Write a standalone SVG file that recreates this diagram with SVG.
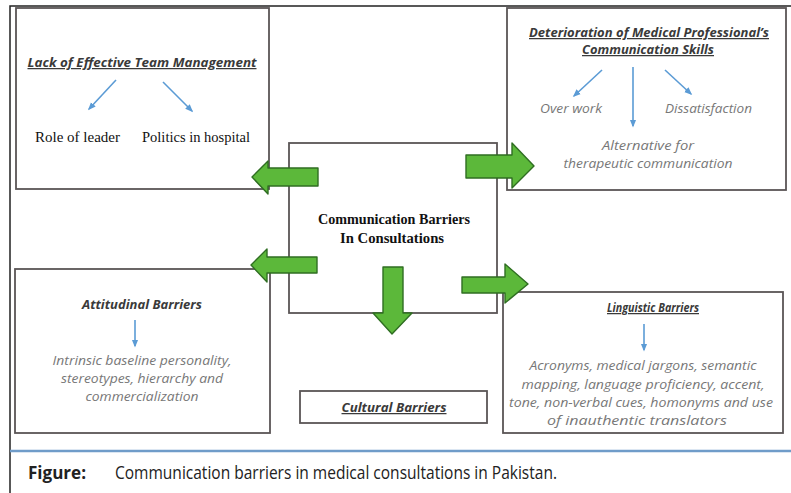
<svg xmlns="http://www.w3.org/2000/svg" width="791" height="493" viewBox="0 0 791 493">
<style>
.box{fill:#fff;stroke:#5a5556;stroke-width:1.8}
.frame{fill:none;stroke:#222;stroke-width:1.5}
.hd{font-family:"Open Sans",Lato,sans-serif;font-style:italic;font-weight:bold;fill:#3a3a3a;font-size:12.5px;text-decoration:underline}
.it{font-family:"Open Sans",Lato,sans-serif;font-style:italic;fill:#777;font-size:12px}
.sf{font-family:"Liberation Serif","Times New Roman",serif;fill:#111;font-size:14px}
.blue{stroke:#5b9bd5;stroke-width:1.6;fill:none;marker-end:url(#bh)}
.green{fill:#5cb83a;stroke:#2f6e22;stroke-width:1.4;stroke-linejoin:round}
.cap{font-family:"Open Sans","Liberation Sans",sans-serif;font-size:18px;fill:#222}
</style>
<defs>
<marker id="bh" viewBox="0 0 10 10" refX="8" refY="5" markerWidth="5" markerHeight="5" orient="auto-start-reverse">
<path d="M0,1 L10,5 L0,9 z" fill="#5b9bd5"/>
</marker>
</defs>
<rect width="791" height="493" fill="#fff"/>
<g id="frame">
<polyline class="frame" points="10,493 10,6 791,6"/>
<line x1="10" y1="451" x2="791" y2="451" stroke="#6f9cc9" stroke-width="2.5"/>
</g>
<g id="node-team">
<rect class="box" x="16" y="8" width="253" height="181"/>
<text class="hd" x="142" y="67" text-anchor="middle" textLength="229" lengthAdjust="spacingAndGlyphs">Lack of Effective Team Management</text>
<text class="sf" x="35" y="142" textLength="85" lengthAdjust="spacingAndGlyphs">Role of leader</text>
<text class="sf" x="142" y="142" textLength="108" lengthAdjust="spacingAndGlyphs">Politics in hospital</text>
</g>
<g id="node-deterioration">
<rect class="box" x="507" y="8" width="279" height="182"/>
<text class="hd" x="649" y="37" text-anchor="middle" textLength="240" lengthAdjust="spacingAndGlyphs">Deterioration of Medical Professional’s</text>
<text class="hd" x="648" y="54" text-anchor="middle" textLength="132" lengthAdjust="spacingAndGlyphs">Communication Skills</text>
<text class="it" x="540" y="113" textLength="62" lengthAdjust="spacingAndGlyphs">Over work</text>
<text class="it" x="665" y="113" textLength="87" lengthAdjust="spacingAndGlyphs">Dissatisfaction</text>
<text class="it" x="648" y="150" text-anchor="middle" textLength="92" lengthAdjust="spacingAndGlyphs">Alternative for</text>
<text class="it" x="648" y="168" text-anchor="middle" textLength="169" lengthAdjust="spacingAndGlyphs">therapeutic communication</text>
</g>
<g id="node-center">
<rect class="box" x="289" y="143" width="208" height="170"/>
<text class="sf" x="394" y="224" text-anchor="middle" font-weight="bold" textLength="152" lengthAdjust="spacingAndGlyphs">Communication Barriers</text>
<text class="sf" x="392" y="243" text-anchor="middle" font-weight="bold" textLength="104" lengthAdjust="spacingAndGlyphs">In Consultations</text>
</g>
<g id="node-attitudinal">
<rect class="box" x="15" y="269" width="255" height="164"/>
<text class="hd" x="142" y="309" text-anchor="middle" style="text-decoration:none" textLength="120" lengthAdjust="spacingAndGlyphs">Attitudinal Barriers</text>
<text class="it" x="142" y="365" text-anchor="middle" textLength="179" lengthAdjust="spacingAndGlyphs">Intrinsic baseline personality,</text>
<text class="it" x="142" y="383" text-anchor="middle" textLength="162" lengthAdjust="spacingAndGlyphs">stereotypes, hierarchy and</text>
<text class="it" x="142" y="401" text-anchor="middle" textLength="113" lengthAdjust="spacingAndGlyphs">commercialization</text>
</g>
<g id="node-cultural">
<rect class="box" x="300" y="391" width="187" height="32"/>
<text class="hd" x="394" y="412" text-anchor="middle" textLength="105" lengthAdjust="spacingAndGlyphs">Cultural Barriers</text>
</g>
<g id="node-linguistic">
<rect class="box" x="503" y="292" width="280" height="141"/>
<text class="hd" x="653" y="312" text-anchor="middle" textLength="92" lengthAdjust="spacingAndGlyphs">Linguistic Barriers</text>
<text class="it" x="643" y="370" text-anchor="middle" textLength="227" lengthAdjust="spacingAndGlyphs">Acronyms, medical jargons, semantic</text>
<text class="it" x="643" y="389" text-anchor="middle" textLength="243" lengthAdjust="spacingAndGlyphs">mapping, language proficiency, accent,</text>
<text class="it" x="641" y="407" text-anchor="middle" textLength="264" lengthAdjust="spacingAndGlyphs">tone, non-verbal cues, homonyms and use</text>
<text class="it" x="637" y="425" text-anchor="middle" textLength="180" lengthAdjust="spacingAndGlyphs">of inauthentic translators</text>
</g>
<g id="connectors">
<line class="blue" x1="116" y1="80" x2="89" y2="109"/>
<line class="blue" x1="163" y1="82" x2="192" y2="111"/>
<line class="blue" x1="602" y1="70" x2="574" y2="96"/>
<line class="blue" x1="633" y1="67" x2="633" y2="126"/>
<line class="blue" x1="665" y1="70" x2="691" y2="94"/>
<line class="blue" x1="135" y1="320" x2="135" y2="346"/>
<line class="blue" x1="644" y1="324" x2="644" y2="350"/>
<polygon class="green" points="252,177 268,161 268,168 318,168 318,186 268,186 268,194"/>
<polygon class="green" points="251,265 267,249 267,257 317,257 317,273 267,273 267,282"/>
<polygon class="green" points="466,155 512,155 512,143 534,166 512,188 512,178 466,178"/>
<polygon class="green" points="462,277 505,277 505,264 528,284 505,303 505,293 462,293"/>
<polygon class="green" points="383,267 403,267 403,313 412,313 392,334 373,313 383,313"/>
</g>
<g id="caption">
<text class="cap" x="28" y="479" font-weight="bold" textLength="58" lengthAdjust="spacingAndGlyphs">Figure:</text>
<text class="cap" x="115" y="479" textLength="442" lengthAdjust="spacingAndGlyphs">Communication barriers in medical consultations in Pakistan.</text>
</g>
</svg>
